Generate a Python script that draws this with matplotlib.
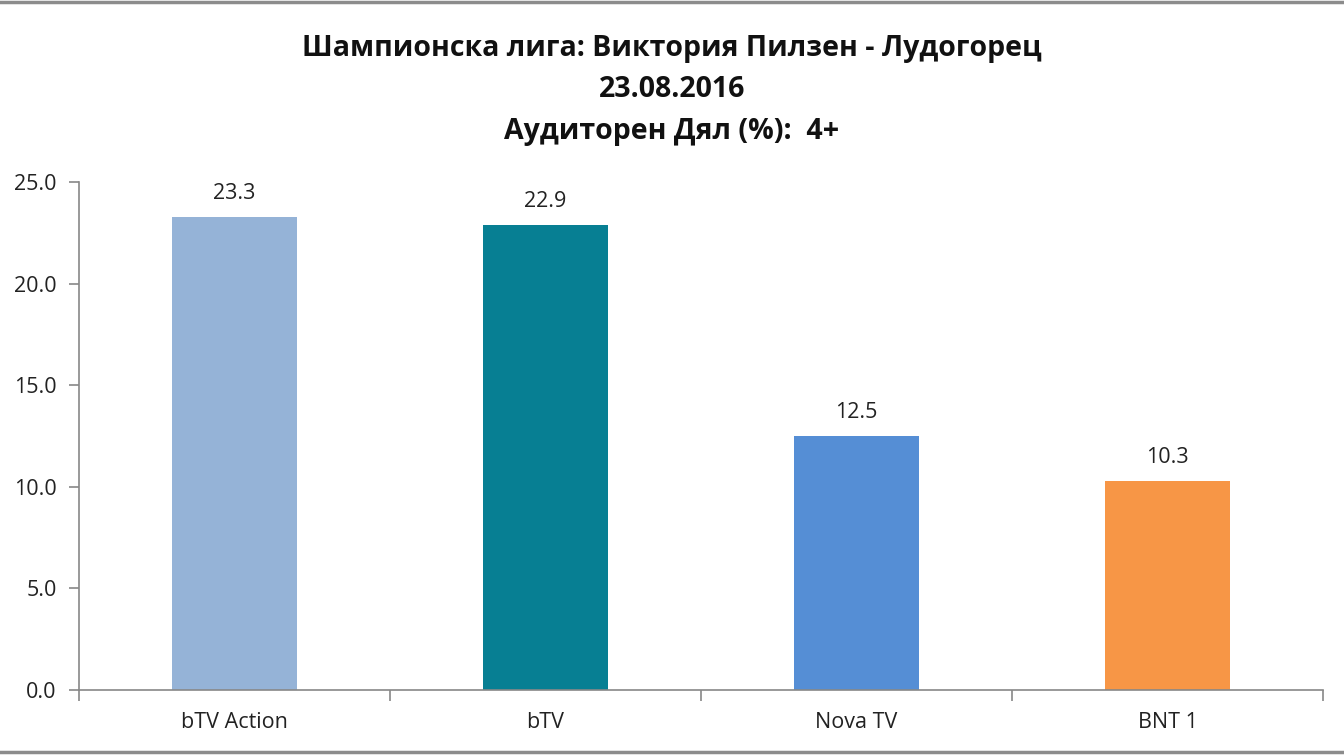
import matplotlib

matplotlib.use("Agg")
import matplotlib.pyplot as plt
from matplotlib.lines import Line2D

plt.rcParams["font.family"] = ["Open Sans", "DejaVu Sans"]

channels = ["bTV Action", "bTV", "Nova TV", "BNT 1"]
share = [23.3, 22.9, 12.5, 10.3]
colors = ["#95B3D7", "#077F93", "#558ED5", "#F79646"]
title_lines = [
    "Шампионска лига: Виктория Пилзен - Лудогорец",
    "23.08.2016",
    "Аудиторен Дял (%):  4+",
]

fig = plt.figure(figsize=(13.44, 7.56), dpi=100)
ax = fig.add_axes([0.0588, 0.0873, 0.9256, 0.672])

x = list(range(len(channels)))
ax.bar(x, share, width=0.4, color=colors)
for xi, v in zip(x, share):
    ax.annotate(f"{v:.1f}", (xi, v), xytext=(0, 9), textcoords="offset points",
                ha="center", va="bottom", fontsize=15.5, color="#222222")

ax.set_xlim(-0.5, len(channels) - 0.5)
ax.set_ylim(0, 25)
ticks = [0, 5, 10, 15, 20, 25]
ax.set_yticks(ticks)
ax.set_yticklabels([f"{t:.1f}" for t in ticks])
ax.set_xticks(x)
ax.set_xticklabels(channels)
ax.set_xticks([i - 0.5 for i in range(len(channels) + 1)], minor=True)
ax.tick_params(axis="x", which="major", length=0, pad=16, labelsize=15.5,
               labelcolor="#222222")
ax.tick_params(axis="x", which="minor", length=8, color="#888888", width=1.2)
ax.tick_params(axis="y", length=7, color="#888888", width=1.2, labelsize=15.5,
               labelcolor="#222222", pad=9)

for s in ["top", "right"]:
    ax.spines[s].set_visible(False)
for s in ["left", "bottom"]:
    ax.spines[s].set_color("#888888")
    ax.spines[s].set_linewidth(1.2)

for yy, txt in zip([0.936, 0.882, 0.826], title_lines):
    fig.text(0.5, yy, txt, ha="center", va="center", fontsize=20.5,
             fontweight="bold", color="#111111")

for yy in [0.997, 0.005]:
    fig.add_artist(Line2D([0, 1], [yy, yy], transform=fig.transFigure,
                          color="#8c8c8c", linewidth=2.5))

fig.savefig("out.png", dpi=100)
